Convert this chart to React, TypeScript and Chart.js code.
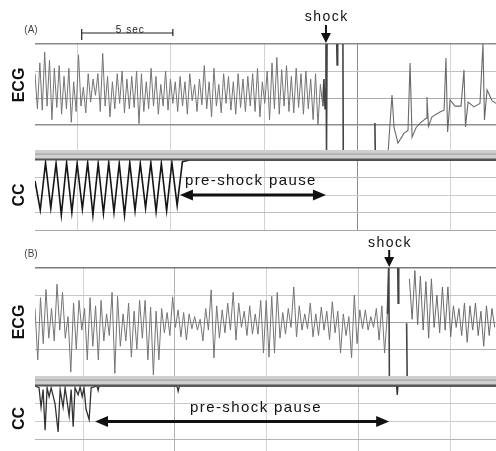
import { useEffect, useRef } from "react";
import { Chart, registerables } from "chart.js";

Chart.register(...registerables);

const FONT = "'Liberation Sans', Arial, Helvetica, sans-serif";

// ---------------- shared ----------------
const gridSeconds = [0, 5, 10, 15, 20];
const ecgTickValues = [2, 1, 0, -1];
const ccTickValuesA = [0, -1, -2, -3, -4];
const ccTickValuesB = [0, -1, -2, -3];

// ---------------- panel (A) ----------------
const timeRangeA = [-2.31, 22.47];
const ecgA_start = -2.31;
const ecgA_step = 0.13;
const ecgA_vf = [
  0.9, -0.4, 1.3, -0.45, 1.7, -0.3, 1.4, -0.8, 1.1, -0.35,
  1.2, -0.6, 0.8, -0.4, 1.1, -0.9, 0.6, -0.5, 1.6, -0.3,
  0.4, -0.55, 0.9, -0.15, 0.7, 0.1, 0.9, -0.5, 1.65, -0.3,
  0.8, -0.7, 0.6, -0.4, 0.9, -0.2, 1.0, -0.55, 0.7, -0.4,
  0.8, -0.35, 1.0, -0.95, 0.9, -0.5, 0.6, -0.4, 1.1, -0.3,
  0.8, -0.6, 0.5, -0.3, 1.0, -0.45, 0.7, -0.2, 0.6, -0.5,
  0.8, -0.3, 0.6, -0.6, 0.9, -0.1, 0.5, -0.5, 0.7, -0.25,
  1.2, -0.4, 0.6, -0.7, 1.1, -0.3, 0.5, -0.55, 0.9, -0.2,
  0.8, -0.45, 0.6, -0.6, 0.9, -0.35, 0.7, -0.5, 0.8, -0.3,
  0.9, -0.5, 1.1, -0.7, 0.6, -0.2, 1.0, -0.8, 1.3, -0.4,
  1.5, -0.6, 1.05, -0.3, 1.2, -0.5, 0.8, -0.55, 1.1, -0.35,
  0.9, -0.6, 1.0, -0.4, 0.7, -0.8, 0.9, -1.0, 0.5, -0.3,
];
const ecgA_shock: Array<[number, number | null]> = [
  [13.16, -0.3], [13.22, 0.7], [13.28, -0.4], [13.33, 2.3], [13.36, -2.0], [13.39, 2.3], [13.4, null],
  [13.9, 2.3], [13.93, 1.22], [13.96, 2.3], [13.97, null],
  [14.24, 2.3], [14.26, -2.0], [14.27, null],
  [15.96, -0.93], [15.98, -2.0], [15.99, null],
];
const ecgA_post: Array<[number, number]> = [
  [16.67, -2.0], [16.88, 0.11], [16.99, -1.1], [17.2, -1.67], [17.53, -1.3], [17.74, -1.2],
  [17.85, 1.3], [17.96, -1.45], [18.17, -1.1], [18.39, -0.93], [18.71, -0.75], [18.76, 0.04],
  [18.84, -1.05], [19.03, -0.7], [19.46, -0.52], [19.68, -0.45], [19.78, 1.48], [19.87, -1.26],
  [20.0, -0.07], [20.27, -0.3], [20.59, -0.3], [20.75, 1.04], [20.83, -1.07], [20.97, -0.15],
  [21.29, -0.33], [21.61, -0.2], [21.77, 2.0], [21.85, -0.81], [21.99, 0.3], [22.26, -0.1],
  [22.47, -0.2],
];
const ccA_start = -2.31;
const ccA_step = 0.283;
const ccA_compressions = [
  -1.2, -2.86, -0.15, -2.75, -0.2, -3.15, -0.15, -2.98, -0.2, -2.8,
  -0.15, -3.15, -0.2, -3.05, -0.15, -2.98, -0.2, -3.15, -0.15, -2.9,
  -0.2, -2.75, -0.15, -2.95, -0.2, -2.9, -0.15, -2.6, -0.1,
];
const ccA_flat: Array<[number, number]> = [[6.0, 0], [22.47, 0]];
const shockA = 13.33;
const pauseA = [5.48, 13.33];
const scaleBarA = [0.2, 5.1];

// ---------------- panel (B) ----------------
const timeRangeB = [-2.62, 22.5];
const ecgB_start = -2.62;
const ecgB_step = 0.15;
const ecgB_vf = [
  0.5, -1.4, 0.9, -0.8, 1.2, -0.6, 0.5, -0.7, 1.4, -0.3,
  1.1, -0.6, 0.2, -1.85, 0.7, -1.0, 0.8, -0.3, 0.5, -1.4,
  0.9, -0.9, 0.6, -1.4, 0.8, -0.7, 0.3, -0.5, 1.1, -1.9,
  0.95, -0.9, 0.3, -0.7, 0.7, -1.3, 0.4, -1.0, 0.8, -0.6,
  0.8, -1.4, 0.55, -1.96, 0.4, -1.4, 0.5, -0.4, 0.35, -0.5,
  0.93, -0.2, 0.45, -0.55, 0.35, -0.67, 0.3, -0.25, 0.2, -0.3,
  0.1, -0.7, 0.5, -0.3, 1.19, -1.33, 0.6, -0.6, 0.45, -0.4,
  0.7, -0.3, 1.1, -0.67, 0.7, -0.2, 0.4, -0.5, 0.6, -0.45,
  0.3, -0.45, 0.8, -1.15, 0.8, -1.3, 0.95, -1.15, 1.1, -0.6,
  0.35, -0.45, 0.5, -0.2, 1.3, -0.55, 0.6, -0.3, 0.3, -0.25,
  0.7, -0.55, 0.3, -0.5, 0.55, -0.3, 0.4, -0.65, 0.75, -0.4,
  0.4, -1.15, 0.3, -0.5, 0.2, -1.33, 1.0, -0.8, 0.45, -0.25,
  0.45, -0.3, 0.2, -0.2, 0.5, -0.67, 0.6, -1.15, 0.3,
];
const ecgB_shock: Array<[number, number | null]> = [
  [16.58, 0.3], [16.66, 2.3], [16.69, -2.1], [16.71, null],
  [17.14, 2.3], [17.17, 0.7], [17.2, 2.3], [17.21, null],
  [17.63, -0.05], [17.66, -2.1], [17.67, null],
];
const ecgB_postStart = 17.78;
const ecgB_postStep = 0.15;
const ecgB_post = [
  1.6, 0.1, 1.9, -0.1, 1.7, -0.3, 1.5, -0.6, 1.6, -0.2,
  1.0, -0.4, 1.3, -0.3, 1.3, -0.55, 0.6, -0.2, 0.5, -0.5,
  0.7, -0.75, 0.6, -0.3, 0.7, -0.5, 0.4, -0.9, 0.6, -0.5,
  0.5, -0.2,
];
const ccB_trace: Array<[number, number]> = [
  [-2.62, 0], [-2.4, -0.1], [-2.29, -1.2], [-2.18, -0.2], [-2.07, -2.5], [-1.96, -0.1],
  [-1.85, -0.6], [-1.74, -0.1], [-1.53, -1.0], [-1.36, -2.6], [-1.25, -0.2], [-1.09, -1.2],
  [-0.98, -0.1], [-0.76, -1.7], [-0.65, -0.2], [-0.54, -2.3], [-0.44, -0.1], [-0.27, -0.5],
  [-0.16, -0.05], [-0.05, -0.6], [0.05, -0.1], [0.16, -1.3], [0.33, -1.9], [0.44, -0.1],
  [0.76, 0], [0.82, -0.25], [0.87, 0], [5.12, 0], [5.18, -0.3], [5.25, 0],
  [17.08, 0], [17.12, -0.5], [17.16, 0], [22.5, 0],
];
const shockB = 16.68;
const pauseB = [0.65, 16.68];

// ---------------- helpers ----------------
const series = (start: number, step: number, vals: number[]) =>
  vals.map((v, i) => ({ x: start + i * step, y: v }));
const pairs = (arr: Array<[number, number | null]>) => arr.map(([x, y]) => ({ x, y }));

function lineDs(data: any[], yAxisID: string, color: string, width: number, clipBottom?: number) {
  const ds: any = {
    type: "line",
    data,
    xAxisID: "x",
    yAxisID,
    borderColor: color,
    borderWidth: width,
    pointRadius: 0,
    pointHoverRadius: 0,
    tension: 0,
    fill: false,
    spanGaps: false,
  };
  if (clipBottom !== undefined) ds.clip = { left: 0, top: 0, right: 0, bottom: clipBottom };
  return ds;
}

function yAxis(
  stack: string,
  weight: number,
  stackWeight: number,
  min: number,
  max: number,
  ticks: number[],
  title: string | null,
  gridColor: (v: number) => string,
  gridWidth: (v: number) => number
) {
  return {
    type: "linear",
    position: "left",
    stack,
    weight,
    stackWeight,
    min,
    max,
    afterBuildTicks: (s: any) => {
      s.ticks = ticks.map((v) => ({ value: v }));
    },
    afterFit: (s: any) => {
      s.width = 35;
    },
    ticks: { display: false },
    border: { display: false },
    grid: {
      display: ticks.length > 0,
      drawTicks: false,
      color: (c: any) => gridColor(c.tick ? c.tick.value : 0),
      lineWidth: (c: any) => gridWidth(c.tick ? c.tick.value : 0),
    },
    title: title
      ? {
          display: true,
          text: title,
          color: "#111",
          font: { family: FONT, size: 16, weight: "bold" },
          padding: { top: 9.5, bottom: 0 },
        }
      : { display: false },
  };
}

function xAxis(range: number[], gridColor: (v: number) => string) {
  return {
    type: "linear",
    position: "bottom",
    min: range[0],
    max: range[1],
    afterBuildTicks: (s: any) => {
      s.ticks = gridSeconds.map((v) => ({ value: v }));
    },
    ticks: { display: false },
    border: { display: false },
    grid: {
      drawTicks: false,
      color: (c: any) => gridColor(c.tick ? c.tick.value : 0),
      lineWidth: 1,
    },
  };
}

type Decor = {
  label: string;
  shock: number;
  pause: number[];
  pauseTextT: number;
  scaleBar?: number[];
  shockTextDy: number;
  shockShaftDy: number;
};

function decorPlugin(p: Decor) {
  return {
    id: "decor",
    afterDatasetsDraw(chart: any) {
      const { ctx, chartArea } = chart;
      const yc = chart.scales.yCc;
      const t = yc.top;
      const w = chartArea.right - chartArea.left;
      ctx.save();
      ctx.fillStyle = "#cfcfcf";
      ctx.fillRect(chartArea.left, t - 10, w, 9);
      ctx.fillStyle = "#a3a3a3";
      ctx.fillRect(chartArea.left, t - 6.5, w, 1.2);
      ctx.fillStyle = "#555";
      ctx.fillRect(chartArea.left, t - 1.5, w, 2);
      ctx.restore();
    },
    afterDraw(chart: any) {
      const { ctx, chartArea } = chart;
      const xs = chart.scales.x;
      const yc = chart.scales.yCc;
      const top = chartArea.top;
      ctx.save();
      // panel label
      ctx.fillStyle = "#444";
      ctx.font = `10px ${FONT}`;
      ctx.textAlign = "center";
      ctx.textBaseline = "middle";
      ctx.fillText(p.label, 31, top - 14);

      // scale bar
      if (p.scaleBar) {
        const b0 = xs.getPixelForValue(p.scaleBar[0]);
        const b1 = xs.getPixelForValue(p.scaleBar[1]);
        const by = top - 11;
        ctx.strokeStyle = "#222";
        ctx.lineWidth = 1.2;
        ctx.beginPath();
        ctx.moveTo(b0, by);
        ctx.lineTo(b1, by);
        ctx.moveTo(b0, by - 4);
        ctx.lineTo(b0, by + 7);
        ctx.moveTo(b1, by - 4);
        ctx.lineTo(b1, by + 3);
        ctx.stroke();
        ctx.fillStyle = "#222";
        ctx.font = `10px ${FONT}`;
        (ctx as any).letterSpacing = "1px";
        ctx.textBaseline = "alphabetic";
        ctx.fillText("5 sec", (b0 + b1) / 2 + 3, by - 0.5);
        (ctx as any).letterSpacing = "0px";
      }

      // shock marker
      const sx = xs.getPixelForValue(p.shock);
      ctx.fillStyle = "#111";
      ctx.font = `14px ${FONT}`;
      ctx.textAlign = "center";
      ctx.textBaseline = "middle";
      (ctx as any).letterSpacing = "1.5px";
      ctx.fillText("shock", sx + 0.75, top + p.shockTextDy);
      (ctx as any).letterSpacing = "0px";
      ctx.strokeStyle = "#111";
      ctx.lineWidth = 2;
      ctx.beginPath();
      ctx.moveTo(sx, top + p.shockShaftDy);
      ctx.lineTo(sx, top - 9);
      ctx.stroke();
      ctx.beginPath();
      ctx.moveTo(sx - 5, top - 11);
      ctx.lineTo(sx + 5, top - 11);
      ctx.lineTo(sx, top - 1);
      ctx.closePath();
      ctx.fill();

      // pre-shock pause arrow
      const ay = yc.getPixelForValue(-2);
      const a0 = xs.getPixelForValue(p.pause[0]);
      const a1 = xs.getPixelForValue(p.pause[1]);
      ctx.lineWidth = 3;
      ctx.beginPath();
      ctx.moveTo(a0 + 8, ay);
      ctx.lineTo(a1 - 8, ay);
      ctx.stroke();
      ctx.beginPath();
      ctx.moveTo(a0, ay);
      ctx.lineTo(a0 + 13, ay - 5.5);
      ctx.lineTo(a0 + 13, ay + 5.5);
      ctx.closePath();
      ctx.fill();
      ctx.beginPath();
      ctx.moveTo(a1, ay);
      ctx.lineTo(a1 - 13, ay - 5.5);
      ctx.lineTo(a1 - 13, ay + 5.5);
      ctx.closePath();
      ctx.fill();

      ctx.font = `15px ${FONT}`;
      (ctx as any).letterSpacing = "1.4px";
      ctx.textAlign = "left";
      ctx.textBaseline = "alphabetic";
      ctx.fillText("pre-shock pause", xs.getPixelForValue(p.pauseTextT), yc.getPixelForValue(-1.45));
      (ctx as any).letterSpacing = "0px";
      ctx.restore();
    },
  };
}

function baseOptions(padTop: number, padBottom: number, scales: any) {
  return {
    responsive: false,
    animation: false,
    devicePixelRatio: 1,
    events: [],
    layout: { padding: { top: padTop, bottom: padBottom, left: 0, right: 0 }, autoPadding: false },
    plugins: { legend: { display: false }, tooltip: { enabled: false }, title: { display: false } },
    scales,
  };
}

function buildA(): any {
  return {
    type: "line",
    data: {
      datasets: [
        lineDs(series(ecgA_start, ecgA_step, ecgA_vf), "yEcg", "#747474", 1.0, 27),
        lineDs(pairs(ecgA_shock), "yEcg", "#444", 1.6, 27),
        lineDs(pairs(ecgA_post), "yEcg", "#6a6a6a", 1.1, 27),
        lineDs(series(ccA_start, ccA_step, ccA_compressions).concat(pairs(ccA_flat) as any), "yCc", "#151515", 1.6),
      ],
    },
    options: baseOptions(44, 2, {
      x: xAxis(timeRangeA, (v) => (v === 15 ? "#8c8c8c" : "#d2d2d2")),
      yEcg: yAxis("A", 3, 82, 2 - 82 / 27, 2, ecgTickValues, "ECG",
        (v) => (v === 2 ? "#8a8a8a" : v === -1 ? "#909090" : v === 0 ? "#ababab" : "#c2c2c2"),
        (v) => (v === 2 || v === -1 ? 1.5 : 1)),
      yGap: yAxis("A", 2, 34, 0, 1, [], null, () => "transparent", () => 0),
      yCc: yAxis("A", 1, 70, -4, 0, ccTickValuesA, "CC",
        (v) => (v === 0 ? "transparent" : v === -4 ? "#a8a8a8" : v === -2 ? "#cdcdcd" : "#bdbdbd"),
        () => 1),
    }),
    plugins: [
      decorPlugin({ label: "(A)", shock: shockA, pause: pauseA, pauseTextT: 5.75, scaleBar: scaleBarA, shockTextDy: -27, shockShaftDy: -19 }),
    ],
  };
}

function buildB(): any {
  return {
    type: "line",
    data: {
      datasets: [
        lineDs(series(ecgB_start, ecgB_step, ecgB_vf), "yEcg", "#747474", 1.0, 4),
        lineDs(pairs(ecgB_shock), "yEcg", "#444", 1.6, 4),
        lineDs(series(ecgB_postStart, ecgB_postStep, ecgB_post), "yEcg", "#6a6a6a", 1.0, 4),
        lineDs(pairs(ccB_trace), "yCc", "#333", 1.3),
      ],
    },
    options: baseOptions(36, 0, {
      x: xAxis(timeRangeB, (v) => (v === 5 ? "#b0b0b0" : v === 15 ? "#c4c4c4" : "#d4d4d4")),
      yEcg: yAxis("B", 3, 108, -2, 2, ecgTickValues, "ECG",
        (v) => (v === 2 ? "#7a7a7a" : v === 0 ? "#9c9c9c" : v === -1 ? "#b0b0b0" : "#c6c6c6"),
        (v) => (v === 2 ? 1.5 : 1)),
      yGap: yAxis("B", 2, 10, 0, 1, [], null, () => "transparent", () => 0),
      yCc: yAxis("B", 1, 65, -65 / 17.7, 0, ccTickValuesB, "CC",
        (v) => (v === 0 ? "transparent" : v === -3 ? "#b4b4b4" : "#cacaca"),
        () => 1),
    }),
    plugins: [
      decorPlugin({ label: "(B)", shock: shockB, pause: pauseB, pauseTextT: 5.83, shockTextDy: -25, shockShaftDy: -18 }),
    ],
  };
}

function PanelCanvas({ build, top, height }: { build: () => any; top: number; height: number }) {
  const ref = useRef<HTMLCanvasElement | null>(null);
  useEffect(() => {
    if (!ref.current) return;
    const chart = new Chart(ref.current, build());
    return () => chart.destroy();
  }, [build]);
  return (
    <canvas
      ref={ref}
      width={496}
      height={height}
      style={{ position: "absolute", left: 0, top, width: 496, height, display: "block" }}
    />
  );
}

export default function App() {
  useEffect(() => {
    document.body.style.margin = "0";
  }, []);
  return (
    <div style={{ position: "fixed", left: 0, top: 0, width: 496, height: 451, background: "#fff", overflow: "hidden" }}>
      <PanelCanvas build={buildA} top={0} height={232} />
      <PanelCanvas build={buildB} top={232} height={219} />
    </div>
  );
}
